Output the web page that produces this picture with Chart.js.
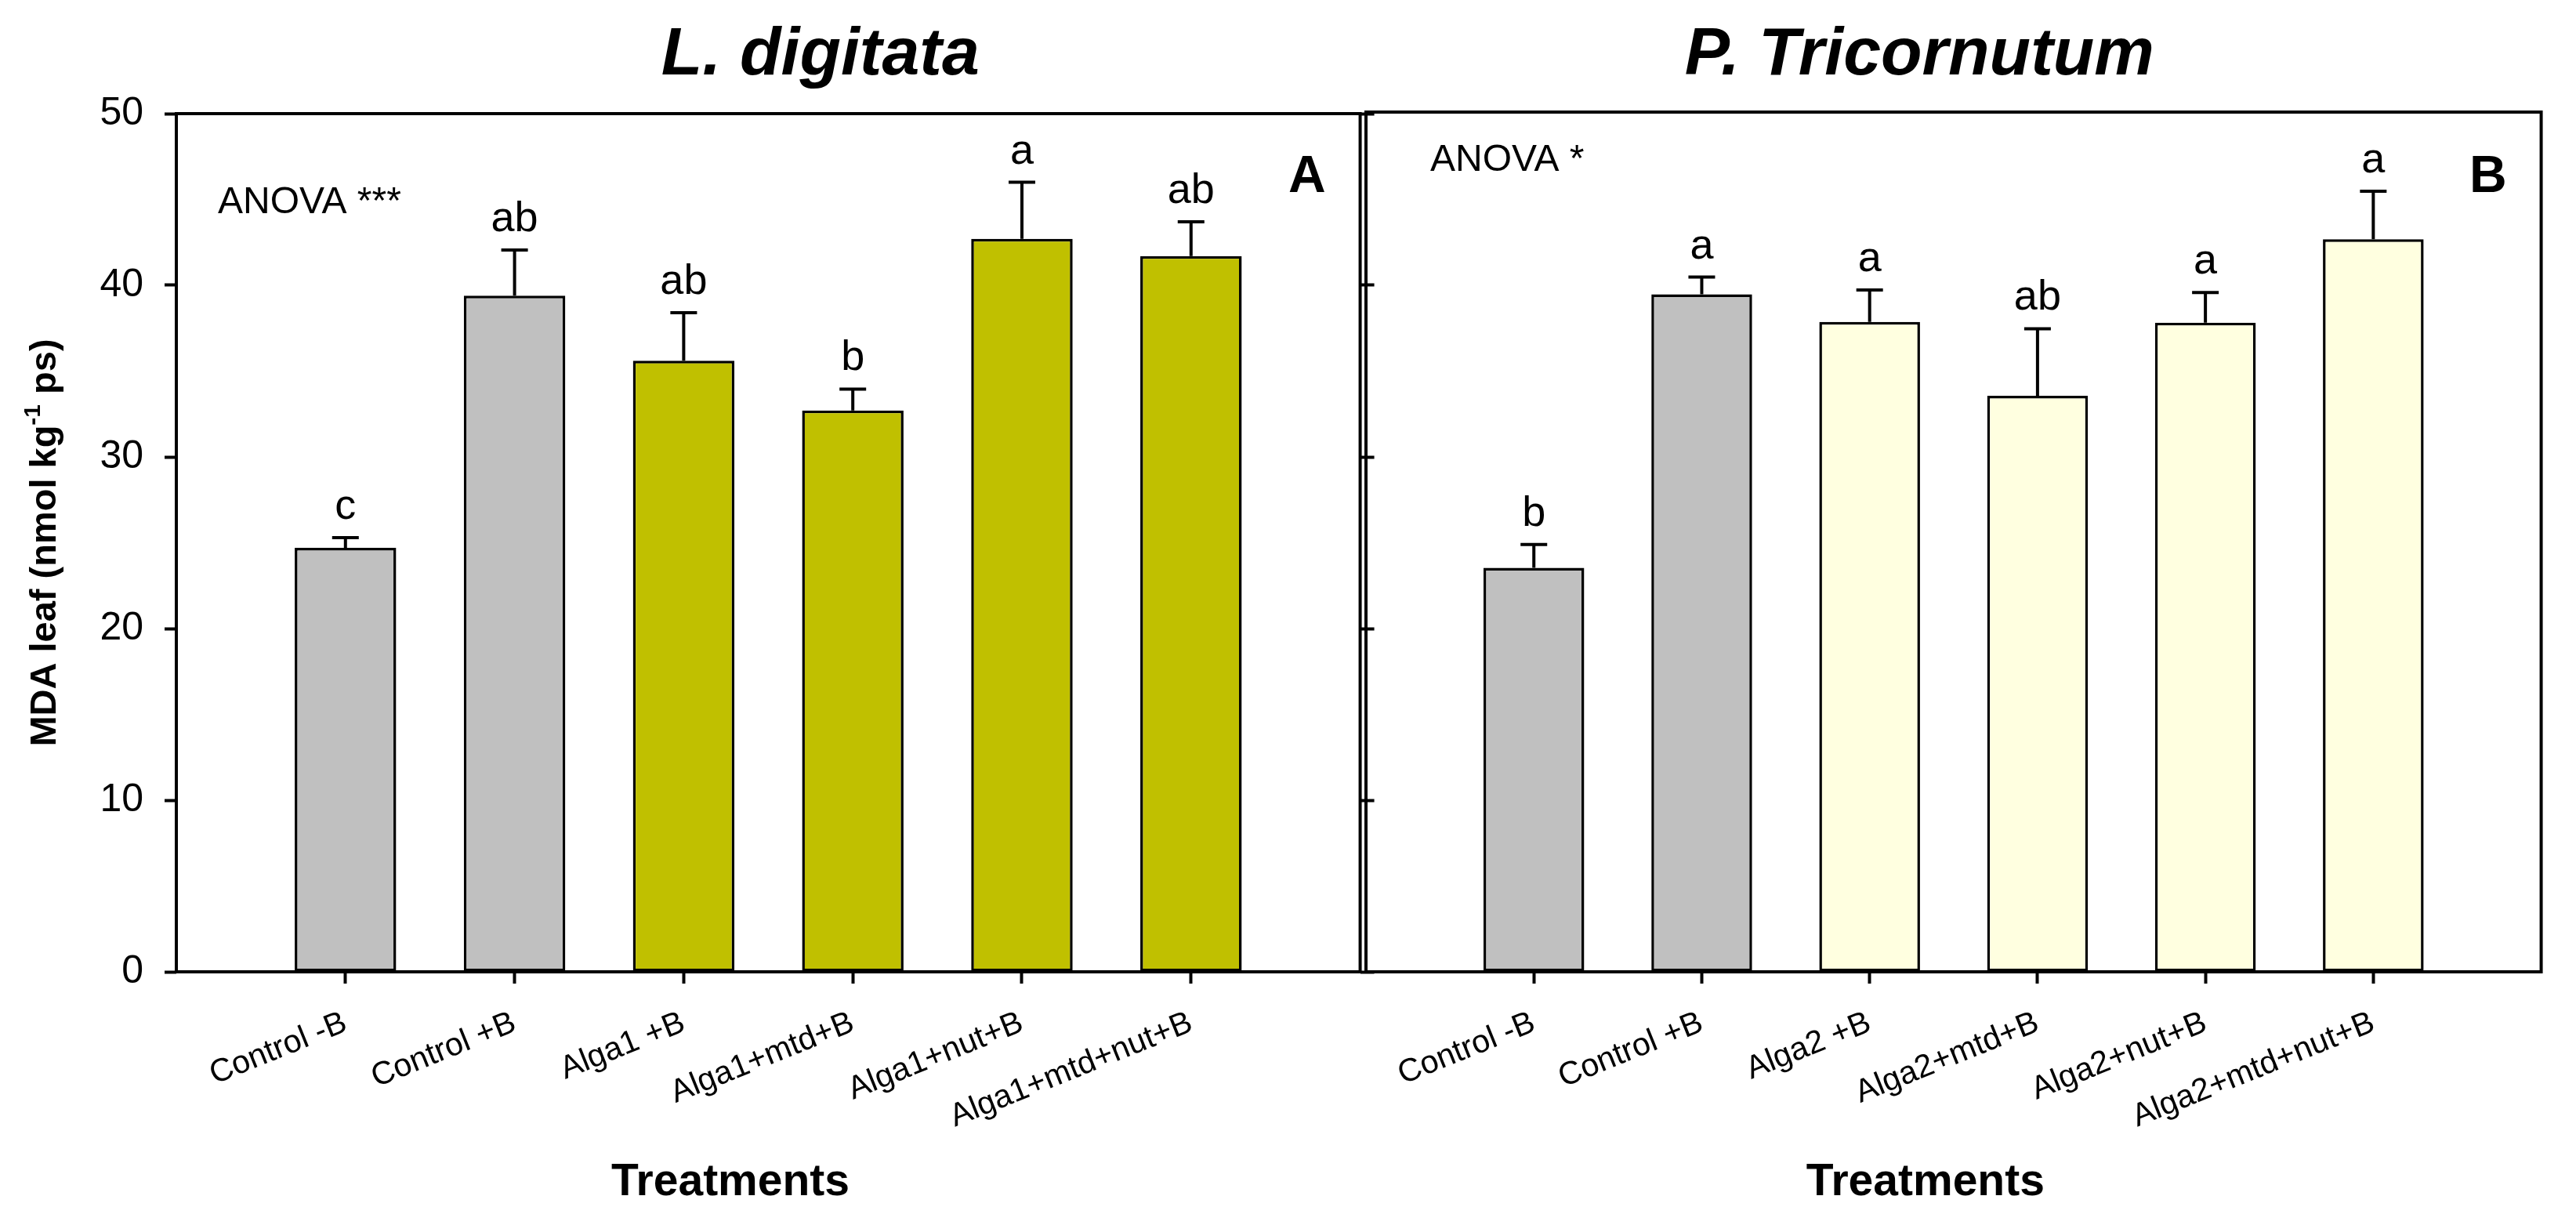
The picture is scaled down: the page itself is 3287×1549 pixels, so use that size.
<!DOCTYPE html>
<html>
<head>
<meta charset="utf-8">
<script src="https://cdn.jsdelivr.net/npm/chart.js@4.4.1/dist/chart.umd.min.js"></script>
<style>
  html, body { margin: 0; padding: 0; background: #fff; }
  body { width: 3287px; height: 1549px; position: relative; overflow: hidden; }
  canvas { position: absolute; top: 0; }
  #chartA { left: 0; }
  #chartB { left: 1700px; }
</style>
</head>
<body>
<canvas id="chartA" width="1780" height="1549"></canvas>
<canvas id="chartB" width="1587" height="1549"></canvas>
<script>
// --- data ---
const labelsA = ['Control -B', 'Control +B', 'Alga1 +B', 'Alga1+mtd+B', 'Alga1+nut+B', 'Alga1+mtd+nut+B'];
const meansA = [24.7, 39.4, 35.6, 32.7, 42.7, 41.7];
const errA = [0.6, 2.65, 2.8, 1.25, 3.3, 2.0];
const lettersA = ['c', 'ab', 'ab', 'b', 'a', 'ab'];

const labelsB = ['Control -B', 'Control +B', 'Alga2 +B', 'Alga2+mtd+B', 'Alga2+nut+B', 'Alga2+mtd+nut+B'];
const meansB = [23.5, 39.4, 37.8, 33.5, 37.75, 42.6];
const errB = [1.35, 1.0, 1.85, 3.9, 1.75, 2.8];
const lettersB = ['b', 'a', 'a', 'ab', 'a', 'a'];

const yMin = 0, yMax = 50, yStep = 10;

Chart.defaults.font.family = '"Liberation Sans", Arial, sans-serif';
Chart.defaults.color = '#000';

const FONT = '"Liberation Sans", Arial, sans-serif';
const GRAY = '#C0C0C0';

// frame, error bars and significance letters
const panelDeco = {
  id: 'panelDeco',
  afterDatasetsDraw(chart, args, o) {
    const { ctx, chartArea: a, scales } = chart;
    const y = scales.y;
    ctx.save();
    ctx.strokeStyle = '#000';
    ctx.lineWidth = 4;
    ctx.strokeRect(a.left, a.top, a.right - a.left, a.bottom - a.top);

    const meta = chart.getDatasetMeta(0);
    ctx.lineWidth = 4;
    ctx.fillStyle = '#000';
    ctx.font = '54px ' + FONT;
    ctx.textAlign = 'center';
    ctx.textBaseline = 'alphabetic';
    o.means.forEach((m, i) => {
      const bar = meta.data[i + 1];
      const top = y.getPixelForValue(m + o.errs[i]);
      ctx.beginPath();
      ctx.moveTo(bar.x, bar.y);
      ctx.lineTo(bar.x, top);
      ctx.moveTo(bar.x - 17, top);
      ctx.lineTo(bar.x + 17, top);
      ctx.stroke();
      ctx.fillText(o.letters[i], bar.x, top - 24);
    });
    ctx.restore();
  },
  afterDraw(chart, args, o) {
    const { ctx, chartArea: a } = chart;
    const w = a.right - a.left;
    ctx.save();
    ctx.fillStyle = '#000';
    ctx.textBaseline = 'alphabetic';

    ctx.font = 'italic bold 86px ' + FONT;
    ctx.textAlign = 'center';
    ctx.fillText(o.title, a.left + o.titleAt * w, 95);

    ctx.font = '48px ' + FONT;
    ctx.textAlign = 'left';
    ctx.fillText(o.anova, a.left + o.anovaDx, o.anovaY);

    ctx.font = 'bold 66px ' + FONT;
    ctx.textAlign = 'right';
    ctx.fillText(o.tag, a.right - 44, 245);

    ctx.font = 'bold 57px ' + FONT;
    ctx.textAlign = 'center';
    ctx.fillText('Treatments', a.left + o.treatAt * w, 1525);

    if (o.yTitle) {
      const cy = (a.top + a.bottom) / 2;
      const main = 'bold 47px ' + FONT, sup = 'bold 30px ' + FONT;
      const p1 = 'MDA leaf (nmol kg', p2 = '-1', p3 = ' ps)';
      ctx.font = main;
      const w1 = ctx.measureText(p1).width, w3 = ctx.measureText(p3).width;
      ctx.font = sup;
      const w2 = ctx.measureText(p2).width;
      const total = w1 + w2 + w3;
      ctx.translate(71, cy);
      ctx.rotate(-Math.PI / 2);
      ctx.textAlign = 'left';
      let x0 = -total / 2;
      ctx.font = main;
      ctx.fillText(p1, x0, 0);
      ctx.font = sup;
      ctx.fillText(p2, x0 + w1, -20);
      ctx.font = main;
      ctx.fillText(p3, x0 + w1 + w2, 0);
    }
    ctx.restore();
  }
};

function makePanel(id, labels, means, errs, letters, fill, deco, layout, withYLabels, withRightTicks) {
  const pad = arr => [null, ...arr, null];
  const colors = ['transparent', GRAY, GRAY, fill, fill, fill, fill, 'transparent'];
  const scales = {
    x: {
      offset: false,
      border: { display: false },
      grid: {
        offset: false,
        drawOnChartArea: false, tickLength: 15, tickWidth: 4,
        tickColor: c => (c.tick && c.tick.label ? '#000' : 'rgba(0,0,0,0)')
      },
      ticks: { autoSkip: false, minRotation: 22, maxRotation: 22, padding: 26, color: '#000', font: { size: 41 } },
      afterFit: s => { s.height = 309; }
    },
    y: {
      min: yMin, max: yMax,
      border: { display: false },
      grid: { drawOnChartArea: false, drawTicks: withYLabels, tickLength: 15, tickWidth: 4, tickColor: '#000' },
      ticks: { stepSize: yStep, padding: 27, color: '#000', font: { size: 50 }, display: withYLabels },
      afterFit: s => { s.width = layout.yWidth; }
    }
  };
  if (withRightTicks) {
    scales.y2 = {
      position: 'right', min: yMin, max: yMax,
      border: { display: false },
      grid: { drawOnChartArea: false, tickLength: 18, tickWidth: 4, tickColor: '#000' },
      ticks: { stepSize: yStep, display: false },
      afterFit: s => { s.width = 36; }
    };
  }
  return new Chart(document.getElementById(id), {
    type: 'bar',
    data: {
      labels: ['', ...labels, ''],
      datasets: [{
        data: pad(means),
        backgroundColor: colors,
        borderColor: '#000',
        borderWidth: 3.5,
        borderSkipped: false,
        barPercentage: 0.6,
        categoryPercentage: 1
      }]
    },
    options: {
      responsive: false,
      animation: false,
      layout: { padding: { top: layout.top, right: layout.right, left: 0, bottom: 0 } },
      plugins: {
        legend: { display: false },
        tooltip: { enabled: false },
        panelDeco: Object.assign({ means, errs, letters }, deco)
      },
      scales
    },
    plugins: [panelDeco]
  });
}

makePanel('chartA', labelsA, meansA, errA, lettersA, '#C0C000',
  { title: 'L. digitata', titleAt: 0.544, anova: 'ANOVA ***', anovaDx: 53, anovaY: 272, tag: 'A', treatAt: 0.468, yTitle: true },
  { top: 145, right: 0, yWidth: 225 }, true, true);

makePanel('chartB', labelsB, meansB, errB, lettersB, '#FFFFE0',
  { title: 'P. Tricornutum', titleAt: 0.471, anova: 'ANOVA *', anovaDx: 82, anovaY: 218, tag: 'B', treatAt: 0.476, yTitle: false },
  { top: 143, right: 25, yWidth: 43 }, false, false);
</script>
</body>
</html>
